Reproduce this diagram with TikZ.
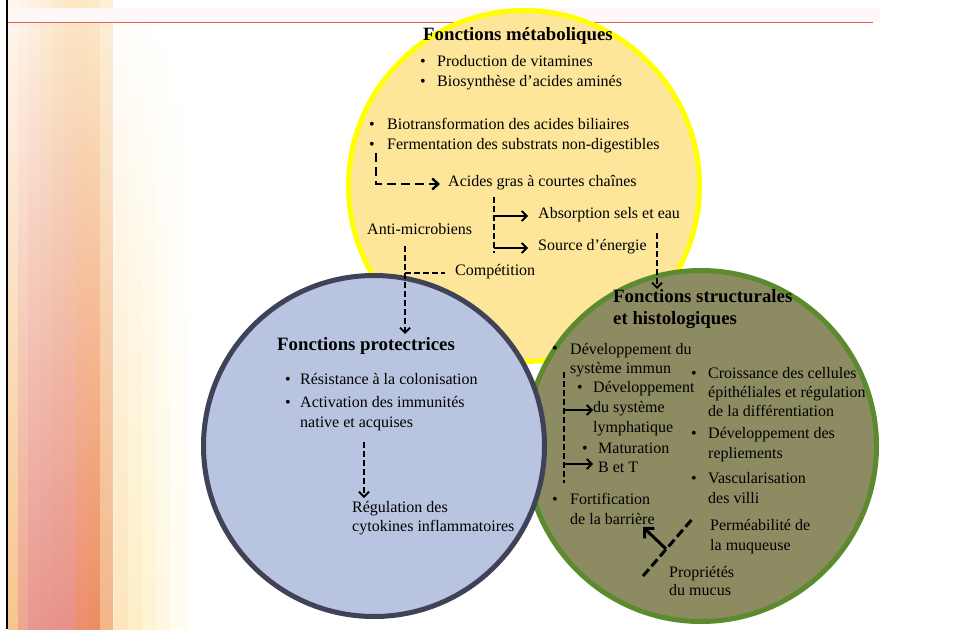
\documentclass[tikz,border=0pt]{standalone}
\usepackage{fontspec}
\setmainfont{Liberation Serif}
\usetikzlibrary{arrows.meta}
\definecolor{yfill}{RGB}{253,229,154}
\definecolor{yring}{RGB}{255,255,0}
\definecolor{bfill}{RGB}{185,197,224}
\definecolor{bring}{RGB}{64,66,87}
\definecolor{gfill}{RGB}{141,139,98}
\definecolor{gring}{RGB}{92,138,46}
\definecolor{redl}{RGB}{232,98,74}
\tikzset{
  txt/.style={anchor=mid west, inner sep=0pt, yshift=-3pt, font=\fontsize{16}{20}\selectfont},
  ttl/.style={anchor=mid west, inner sep=0pt, yshift=-3pt, font=\fontsize{18.8}{22}\selectfont\bfseries},
  bul/.style={anchor=mid west, inner sep=0pt, yshift=-3pt, font=\fontsize{16}{20}\selectfont},
  dashline/.style={line width=1.8pt, dash pattern=on 6pt off 3pt},
  dasharrow/.style={dashline, -{Straight Barb[length=5pt,width=10pt]}},
  bigdash/.style={line width=2.4pt, dash pattern=on 9pt off 5pt, -{Straight Barb[length=6pt,width=11pt]}},
  solidarrow/.style={line width=1.8pt, -{Straight Barb[length=5pt,width=10pt]}},
  thickarrow/.style={line width=3pt, -{Straight Barb[length=7pt,width=14pt]}},
  diagdash/.style={line width=3pt, dash pattern=on 9pt off 4pt}
}
\begin{document}
\begin{tikzpicture}[x=1pt,y=-1pt]
\useasboundingbox (0,0) rectangle (974,629);
\fill[white] (0,0) rectangle (974,629);
% background flame, drawn as vertically shaded strips
\foreach \xa/\xb/\ct/\cm/\cb in {
  8/18/FFF6EE/F5C0A8/F6C68E,
  18/28/FFF4E8/EFA8A0/EDA690,
  28/40/FEF2E0/EAA09C/E8978F,
  40/52/FDEFD6/E99A95/E7948E,
  52/64/FCEBCC/EA938A/E7928C,
  64/76/FCE8C6/EC8E80/E99088,
  76/88/FCE8C4/EE8D78/EC8E70,
  88/100/FCEACA/F0A080/EE8D62,
  100/113/FDF0D8/F6CFA0/F2B68A,
  113/114/FFFFFF/FCEBD8/FCEBD8,
  114/128/FFFFFF/FEF0D0/FCE6BC,
  128/142/FFFFFF/FEF4D8/FDEEC6,
  142/156/FFFFFF/FFF8E4/FEF3D2,
  156/170/FFFFFF/FFFBEE/FFF8E2,
  170/185/FFFFFF/FFFFFF/FFFCF0}
{
  \definecolor{ct}{HTML}{\ct}
  \definecolor{cm}{HTML}{\cm}
  \definecolor{cb}{HTML}{\cb}
  \shade[top color=ct, middle color=cm, bottom color=cb] (\xa,0) rectangle ({\xb+2},629);
}
\fill[redl!4] (7,8) rectangle (880,22);
\draw[redl, line width=1.6pt] (7,22.5) -- (873,22.5);
\draw[black, line width=2pt] (7,0) -- (7,629);
% circles
\draw[yring, fill=yfill, line width=5pt] (524,186) circle (175.5);
\draw[gring, fill=gfill, line width=5pt] (701,446) circle (175.5);
\draw[bring, fill=bfill, line width=5pt] (374,446) circle (170.5);
% metabolic
\node[ttl] (tmet) at (423,35) {Fonctions métaboliques};
\node[bul] (bm1) at (420,61) {•};
\node[txt] (m1) at (437,61) {Production de vitamines};
\node[bul] (bm2) at (420,81) {•};
\node[txt] (m2) at (437,81) {Biosynthèse d’acides aminés};
\node[bul] (bm3) at (369,124) {•};
\node[txt] (m3) at (387,124) {Biotransformation des acides biliaires};
\node[bul] (bm4) at (369,144) {•};
\node[txt] (m4) at (387,144) {Fermentation des substrats non-digestibles};
\node[txt] (agcc) at (448,181) {Acides gras à courtes chaînes};
\node[txt] (abs) at (538,213) {Absorption sels et eau};
\node[txt] (src) at (538,245) {Source d’énergie};
\node[txt] (anti) at (367,229) {Anti-microbiens};
\node[txt] (comp) at (455,270) {Compétition};
\coordinate (e0) at (376,153);
\draw[bigdash] (e0) |- ([xshift=-8pt]agcc.mid west);
\coordinate (s0) at (494,197);
\coordinate (s1) at (494,253);
\draw[dashline] (s0) -- (s1);
\draw[solidarrow] (s0 |- abs.mid west) -- ([xshift=-10pt]abs.mid west);
\draw[solidarrow] (s0 |- src.mid west) -- ([xshift=-10pt]src.mid west);
\coordinate (a0) at (405,246);
\coordinate (a1) at (405,334);
\draw[dasharrow] (a0) -- (a1);
\draw[dashline] (a0 |- comp.mid west) -- ([xshift=-10pt]comp.mid west);
\coordinate (r0) at (657,233);
\coordinate (r1) at (657,289);
\draw[dasharrow] (r0) -- (r1);
% protective
\node[ttl] (tprot) at (277,345) {Fonctions protectrices};
\node[bul] (bp1) at (285,379) {•};
\node[txt] (p1) at (300,379) {Résistance à la colonisation};
\node[bul] (bp2) at (285,402) {•};
\node[txt] (p2) at (300,402) {Activation des immunités};
\node[txt] (p2b) at (300,422) {native et acquises};
\coordinate (c0) at (364,442);
\coordinate (c1) at (364,498);
\draw[dasharrow] (c0) -- (c1);
\node[txt] (reg) at (352,507) {Régulation des};
\node[txt] (reg2) at (352,526) {cytokines inflammatoires};
% structural
\node[ttl] (tstr) at (613,297) {Fonctions structurales};
\node[ttl] (tstr2) at (613,319) {et histologiques};
\node[bul] (bs1) at (552,348) {•};
\node[txt] (s1a) at (570,349) {Développement du};
\node[txt] (s1b) at (570,368) {système immun};
\node[bul] (bs2) at (577,387) {•};
\node[txt] (s2a) at (593,387) {Développement};
\node[txt] (s2b) at (593,407) {du système};
\node[txt] (s2c) at (593,427) {lymphatique};
\node[bul] (bs3) at (582,448) {•};
\node[txt] (s3a) at (598,448) {Maturation};
\node[txt] (s3b) at (598,467) {B et T};
\node[bul] (bs4) at (552,499) {•};
\node[txt] (s4a) at (570,499) {Fortification};
\node[txt] (s4b) at (570,519) {de la barrière};
\node[bul] (bs5) at (691,373) {•};
\node[txt] (s5a) at (708,373) {Croissance des cellules};
\node[txt] (s5b) at (708,392) {épithéliales et régulation};
\node[txt] (s5c) at (708,411) {de la différentiation};
\node[bul] (bs6) at (691,433) {•};
\node[txt] (s6a) at (708,433) {Développement des};
\node[txt] (s6b) at (708,453) {repliements};
\node[bul] (bs7) at (691,478) {•};
\node[txt] (s7a) at (708,478) {Vascularisation};
\node[txt] (s7b) at (708,498) {des villi};
\node[txt] (perm) at (710,525) {Perméabilité de};
\node[txt] (perm2) at (710,545) {la muqueuse};
\node[txt] (muc) at (669,572) {Propriétés};
\node[txt] (muc2) at (669,590) {du mucus};
\coordinate (v0) at (564,372);
\coordinate (v1) at (564,483);
\draw[dashline] (v0) -- (v1);
\coordinate (la) at (564,410);
\coordinate (lb) at (564,464);
\draw[solidarrow] (la) -- (la -| s2b.west);
\draw[solidarrow] (lb) -- (lb -| s2b.west);
\coordinate (d0) at (643,576);
\coordinate (d1) at (694,517);
\draw[diagdash] (d0) -- (d1);
\coordinate (f0) at (666,549);
\coordinate (f1) at (643,527);
\draw[thickarrow] (f0) -- (f1);
\end{tikzpicture}
\end{document}
